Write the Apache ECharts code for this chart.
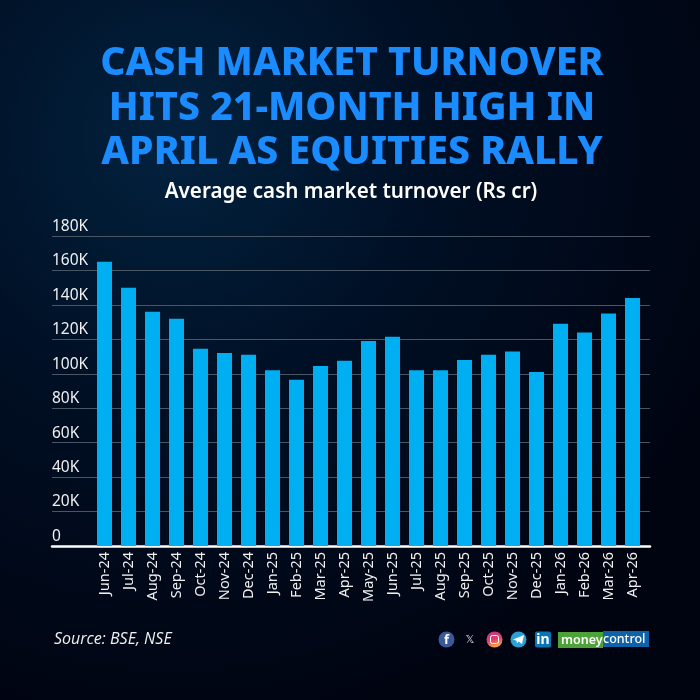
<!DOCTYPE html>
<html><head><meta charset="utf-8">
<style>html,body{margin:0;padding:0;background:#00040f}#c{width:700px;height:700px}</style>
<script src="https://cdn.jsdelivr.net/npm/echarts@6/dist/echarts.min.js"></script>
</head><body><div id="c"></div>
<script>
const titleLines = ["CASH MARKET TURNOVER","HITS 21-MONTH HIGH IN","APRIL AS EQUITIES RALLY"];
const subtitle = "Average cash market turnover (Rs cr)";
const source = "Source: BSE, NSE";
const months = ["Jun-24","Jul-24","Aug-24","Sep-24","Oct-24","Nov-24","Dec-24","Jan-25","Feb-25","Mar-25","Apr-25","May-25","Jun-25","Jul-25","Aug-25","Sep-25","Oct-25","Nov-25","Dec-25","Jan-26","Feb-26","Mar-26","Apr-26"];
const turnover = [165000,150000,136000,132000,114500,112000,111000,102000,96500,104500,107500,119000,121500,102000,102000,108000,111000,113000,101000,129000,124000,135000,144000];

const sans = "'Noto Sans', sans-serif";
const chart = echarts.init(document.getElementById('c'), null, {renderer:'canvas'});
chart.setOption({
  animation:false,
  backgroundColor:{type:'radial',x:0.25,y:0.2,r:0.85,colorStops:[
    {offset:0,color:'#03223f'},{offset:0.45,color:'#000f24'},{offset:1,color:'#000411'}]},
  title:[
    {text:titleLines.join("\n"),top:37,textAlign:'center',left:347,
     textStyle:{color:'#1a8cff',fontFamily:sans,fontWeight:800,fontSize:39.2,lineHeight:44.5}},
    {text:subtitle,left:346,top:177,textAlign:'center',
     textStyle:{color:'#ffffff',fontFamily:sans,fontWeight:600,fontSize:20.6}},
    {text:source,left:49,top:626,
     textStyle:{color:'#f0f0f0',fontFamily:"'Open Sans',sans-serif",fontStyle:'italic',fontWeight:400,fontSize:16}}
  ],
  grid:[
    {left:52,right:50,top:236,bottom:154},
    {left:92.5,right:55.5,top:236,bottom:154}
  ],
  xAxis:[
    {gridIndex:0,type:'category',data:[],axisLine:{show:true,onZero:true,lineStyle:{color:'#ffffff',width:2.5}},axisTick:{show:false},axisLabel:{show:false}},
    {gridIndex:1,type:'category',data:months,axisLine:{show:false},axisTick:{show:false},
     axisLabel:{interval:0,rotate:90,color:'#f0f0f0',fontFamily:sans,fontSize:14.5,margin:6}}
  ],
  yAxis:[
    {gridIndex:0,type:'value',min:0,max:180000,interval:20000,axisLine:{show:false},axisTick:{show:false},
     splitLine:{show:true,lineStyle:{color:'#4a5663',width:1}},
     axisLabel:{inside:true,margin:0,verticalAlign:'bottom',padding:[0,0,1.5,0],color:'#f0f0f0',fontFamily:sans,fontSize:15.5,
       formatter:v=>v===0?'0':(v/1000)+'K'}},
    {gridIndex:1,type:'value',min:0,max:180000,interval:20000,show:false}
  ],
  series:[{type:'bar',xAxisIndex:1,yAxisIndex:1,data:turnover,barWidth:15,z:3,
    itemStyle:{color:'#00aef2'}}],
  graphic:{elements:[
    {type:'circle',shape:{cx:446.5,cy:639.5,r:8},style:{fill:'#3b5998'}},
    {type:'text',style:{x:446.5,y:640,text:'f',fill:'#fff',font:"bold 13px "+sans,align:'center',verticalAlign:'middle'}},
    {type:'text',style:{x:470,y:640,text:'𝕏',fill:'#d8d8d8',font:"11px 'DejaVu Sans'",align:'center',verticalAlign:'middle'}},
    {type:'circle',shape:{cx:494.5,cy:639.5,r:8},style:{fill:{type:'linear',x:0,y:0,x2:0.3,y2:1,colorStops:[{offset:0,color:'#c13584'},{offset:0.6,color:'#e1416b'},{offset:1,color:'#f9a03c'}]}}},
    {type:'rect',shape:{x:490.5,y:635.5,width:8,height:8,r:2},style:{fill:'none',stroke:'#fff',lineWidth:1}},
    {type:'circle',shape:{cx:518.5,cy:639.5,r:8},style:{fill:'#2a9fd8'}},
    {type:'polygon',shape:{points:[[513,639.5],[524,635],[522,644],[518.5,641.5],[517,643.5],[516.5,640.8]]},style:{fill:'#fff'}},
    {type:'rect',shape:{x:535,y:631.5,width:16,height:16,r:2},style:{fill:'#0a75b5'}},
    {type:'text',style:{x:543,y:640,text:'in',fill:'#fff',font:"bold 14px "+sans,align:'center',verticalAlign:'middle'}},
    {type:'rect',shape:{x:558,y:632,width:45,height:16},style:{fill:'#4da338'}},
    {type:'rect',shape:{x:603,y:631,width:46,height:16},style:{fill:'#0f62a8'}},
    {type:'text',style:{x:561,y:640,text:'money',fill:'#fff',font:"600 12.5px "+sans,verticalAlign:'middle'}},
    {type:'text',style:{x:603,y:639.5,text:'control',fill:'#fff',font:"500 12.5px "+sans,verticalAlign:'middle'}}
  ]}
});
</script></body></html>
